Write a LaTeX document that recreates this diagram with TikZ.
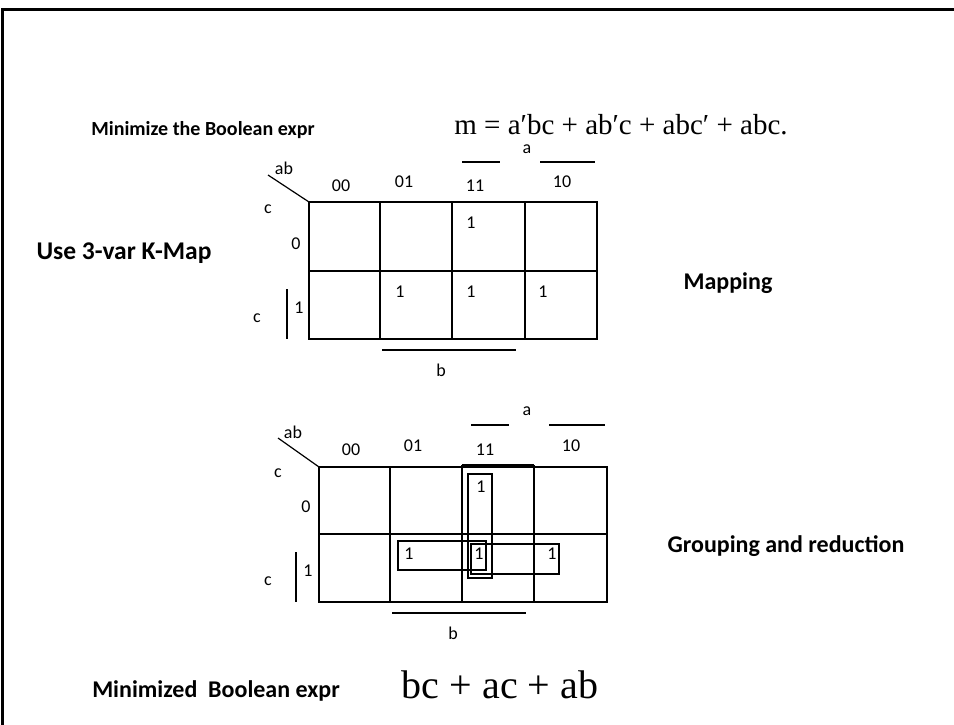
\documentclass[tikz,border=0pt]{standalone}
\usepackage{fontspec}
\setmainfont{Carlito}
\newfontfamily\timesf{Liberation Serif}
\begin{document}
\begin{tikzpicture}[x=1pt,y=-1pt,
  lbl/.style={font=\fontsize{18}{20}\selectfont, inner sep=0pt},
  ttl/.style={font=\bfseries\fontsize{24}{28}\selectfont, inner sep=0pt},
  expr/.style={font=\timesf\fontsize{29}{32}\selectfont, inner sep=0pt},
  bigexpr/.style={font=\timesf\fontsize{40}{44}\selectfont, inner sep=0pt},
  gridline/.style={line width=1.2pt},
  grp/.style={line width=1.1pt}]
\useasboundingbox (0,0) rectangle (954,725);
% frame
\coordinate (fbl) at (2.5,725);
\coordinate (ftl) at (2.5,9.5);
\coordinate (ftr) at (954,9.5);
\draw[line width=3pt] (fbl) -- (ftl) -- (ftr);

% titles
\node[ttl, font=\bfseries\fontsize{20}{24}\selectfont] (t1) at (203,130) {Minimize the Boolean expr};
\node[expr] (e1) at (621,125) {m = a′bc + ab′c + abc′ + abc.};
\node[ttl, font=\bfseries\fontsize{25.5}{29}\selectfont] (t2) at (124,253) {Use 3-var K-Map};
\node[ttl] (t3) at (728,283) {Mapping};
\node[ttl] (t4) at (786,546) {Grouping and reduction};
\node[ttl] (t5) at (216,691) {Minimized\ \ Boolean expr};
\node[bigexpr] (e2) at (500,685) {bc + ac + ab};

% ---------- K-map 1 ----------
\draw[gridline] (309,202) rectangle (597,339);
\draw[gridline] (309,271) -- (597,271);
\draw[gridline] (380,202) -- (380,339);
\draw[gridline] (452,202) -- (452,339);
\draw[gridline] (525,202) -- (525,339);
\coordinate (d1a) at (268,175);
\coordinate (d1b) at (309,202);
\draw[gridline] (d1a) -- (d1b);
\node[lbl] (m1ab) at (284,168) {ab};
\node[lbl] (m1h0) at (341,186) {00};
\node[lbl] (m1h1) at (404,182) {01};
\node[lbl] (m1h3) at (475,186) {11};
\node[lbl] (m1h2) at (562,182) {10};
\node[lbl] (m1a) at (527,149) {a};
\coordinate (o1a) at (462,162); \coordinate (o1b) at (500,162);
\coordinate (o1c) at (540,162); \coordinate (o1d) at (595,162);
\draw[gridline] (o1a) -- (o1b);
\draw[gridline] (o1c) -- (o1d);
\node[lbl] (m1c0) at (268,209) {c};
\node[lbl] (m1r0) at (296,244) {0};
\node[lbl] (m1r1) at (299,308) {1};
\node[lbl] (m1c1) at (257,318) {c};
\coordinate (v1a) at (287,289); \coordinate (v1b) at (287,339);
\draw[gridline] (v1a) -- (v1b);
\coordinate (b1a) at (382,350); \coordinate (b1b) at (516,350);
\draw[gridline] (b1a) -- (b1b);
\node[lbl] (m1b) at (441,370) {b};
\node[lbl] (m1x1) at (471,223) {1};
\node[lbl] (m1x2) at (400,292) {1};
\node[lbl] (m1x3) at (471,292) {1};
\node[lbl] (m1x4) at (543,292) {1};

% ---------- K-map 2 ----------
\draw[gridline] (319,467) rectangle (607,602);
\draw[gridline] (319,534) -- (607,534);
\draw[gridline] (390,467) -- (390,602);
\draw[gridline] (462,465) -- (462,602);
\draw[gridline] (534,465) -- (534,602);
\draw[gridline] (462,465) -- (534,465);
\coordinate (d2a) at (278,438);
\coordinate (d2b) at (319,467);
\draw[gridline] (d2a) -- (d2b);
\node[lbl] (m2ab) at (293,432) {ab};
\node[lbl] (m2h0) at (351,450) {00};
\node[lbl] (m2h1) at (413,446) {01};
\node[lbl] (m2h3) at (485,450) {11};
\node[lbl] (m2h2) at (571,446) {10};
\node[lbl] (m2a) at (527,411) {a};
\coordinate (o2a) at (471,425); \coordinate (o2b) at (509,425);
\coordinate (o2c) at (549,425); \coordinate (o2d) at (605,425);
\draw[gridline] (o2a) -- (o2b);
\draw[gridline] (o2c) -- (o2d);
\node[lbl] (m2c0) at (278,473) {c};
\node[lbl] (m2r0) at (306,507) {0};
\node[lbl] (m2r1) at (308,571) {1};
\node[lbl] (m2c1) at (268,581) {c};
\coordinate (v2a) at (296,552); \coordinate (v2b) at (296,602);
\draw[gridline] (v2a) -- (v2b);
\coordinate (b2a) at (392,613); \coordinate (b2b) at (526,613);
\draw[gridline] (b2a) -- (b2b);
\node[lbl] (m2b) at (453,633) {b};
\node[lbl] (m2x1) at (481,487) {1};
\node[lbl] (m2x2) at (409,554) {1};
\node[lbl] (m2x3) at (479,554) {1};
\node[lbl] (m2x4) at (552,554) {1};
% groups
\draw[grp] (468,474) rectangle (492,578);
\draw[grp] (398,541) rectangle (486,570);
\draw[grp] (471,544) rectangle (559,574);
\end{tikzpicture}
\end{document}
